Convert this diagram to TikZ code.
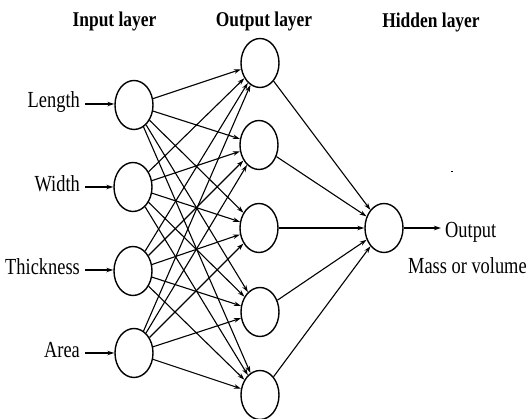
\documentclass[tikz,border=0pt]{standalone}
\usepackage{fontspec}
\setmainfont{Liberation Serif}
\usetikzlibrary{arrows.meta,shapes.geometric}
\begin{document}
\begin{tikzpicture}[x=1pt,y=-1pt,
  neuron/.style={draw,line width=1.4pt,ellipse,minimum width=38pt,minimum height=49pt,inner sep=0pt},
  conn/.style={line width=1.1pt,-{Stealth[length=7pt,width=4.5pt]}},
  lbl/.style={font=\fontsize{23}{25}\selectfont,inner sep=0pt,xscale=0.8},
  head/.style={font=\fontsize{21}{23}\selectfont\bfseries,inner sep=0pt,xscale=0.83}]
\useasboundingbox (0,0) rectangle (531,419);
% titles
\node[head,anchor=base] (tin) at (114.5,27) {Input layer};
\node[head,anchor=base] (tout) at (264,27) {Output layer};
\node[head,anchor=base] (thid) at (431,28) {Hidden layer};
% input nodes
\node[neuron] (i1) at (134,105) {};
\node[neuron] (i2) at (133,187) {};
\node[neuron] (i3) at (133,271) {};
\node[neuron] (i4) at (134,353) {};
% hidden nodes
\node[neuron] (h1) at (260,63) {};
\node[neuron] (h2) at (259,145) {};
\node[neuron] (h3) at (259,228) {};
\node[neuron] (h4) at (260,312) {};
\node[neuron] (h5) at (260,395) {};
% output node
\node[neuron] (o) at (384,228) {};
% input labels
\node[lbl,anchor=base east] (l1) at (80,108) {Length};
\node[lbl,anchor=base east] (l2) at (80,192) {Width};
\node[lbl,anchor=base east] (l3) at (80,275) {Thickness};
\node[lbl,anchor=base east] (l4) at (80,358) {Area};
\coordinate (a1) at (85,104);
\coordinate (a2) at (85,187);
\coordinate (a3) at (85,270);
\coordinate (a4) at (85,353);
\draw[conn] (a1) -- (i1.west |- a1);
\draw[conn] (a2) -- (i2.west |- a2);
\draw[conn] (a3) -- (i3.west |- a3);
\draw[conn] (a4) -- (i4.west |- a4);
% all input to hidden
\foreach \i in {1,2,3,4}{
  \foreach \h in {1,2,3,4,5}{
    \draw[conn] (i\i) -- (h\h);
  }
}
% hidden to output
\foreach \h in {1,2,3,4,5}{
  \draw[conn] (h\h) -- (o);
}
% output
\coordinate (oend) at (441,228);
\draw[conn] (o.east) -- (oend);
\node[lbl,anchor=base west] (otxt) at (445,238) {Output};
\node[lbl,anchor=base west] (mtxt) at (408,274) {Mass or volume};
\fill (451,171.5) rectangle (453,172.5);
\end{tikzpicture}
\end{document}
